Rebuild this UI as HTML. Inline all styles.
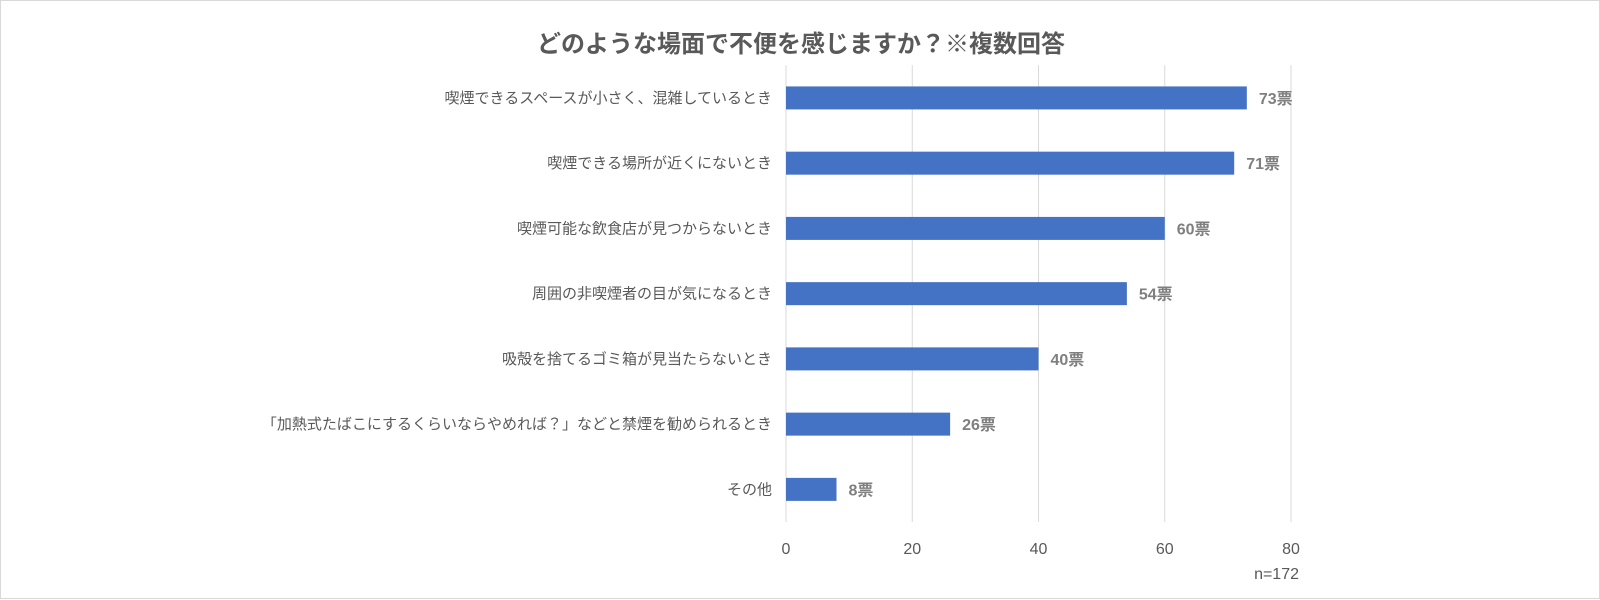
<!DOCTYPE html>
<html><head><meta charset="utf-8"><style>
html,body{margin:0;padding:0;background:#fff}
svg{display:block}
text{font-family:"Liberation Sans","Noto Sans CJK JP",sans-serif}
</style></head><body>
<svg id="chart" width="1600" height="600" viewBox="0 0 1600 600">
<rect x="0.5" y="0.5" width="1599" height="598" fill="#fff" stroke="#d9d9d9"/>
<text x="801" y="52" text-anchor="middle" font-size="24" font-weight="bold" fill="#595959">どのような場面で不便を感じますか？※複数回答</text>
<g id="grid"></g><g id="bars"></g><g id="labels"></g>
<text x="1299" y="579" text-anchor="end" font-size="16" fill="#595959">n=172</text>
</svg>
<script>
const categories=["喫煙できるスペースが小さく、混雑しているとき","喫煙できる場所が近くにないとき","喫煙可能な飲食店が見つからないとき","周囲の非喫煙者の目が気になるとき","吸殻を捨てるゴミ箱が見当たらないとき","「加熱式たばこにするくらいならやめれば？」などと禁煙を勧められるとき","その他"];
const values=[73,71,60,54,40,26,8];
const ticks=[0,20,40,60,80];
const valueSuffix="票";
const NS="http://www.w3.org/2000/svg";
const x0=786,x1=1291,xMax=80,yTop=65.3,yBottom=522;
const band=(yBottom-yTop)/categories.length;
const xs=v=>x0+(x1-x0)*v/xMax;
const yc=i=>yTop+band*(i+0.5);
function mk(tag,attrs,parent){const e=document.createElementNS(NS,tag);for(const k in attrs)e.setAttribute(k,attrs[k]);parent.appendChild(e);return e;}
const grid=document.getElementById('grid'),bars=document.getElementById('bars'),labels=document.getElementById('labels');
ticks.forEach(t=>{
 const l=mk('line',{x1:xs(t),x2:xs(t),y1:yTop,y2:yBottom,stroke:'#d9d9d9','stroke-width':1},grid);
 
 
 const tx=mk('text',{x:xs(t),y:554,'text-anchor':'middle','font-size':16,fill:'#595959'},grid);
 tx.textContent=t;
 
 
});
categories.forEach((c,i)=>{
 const y=yc(i),h=23;
 const r=mk('rect',{x:xs(0),y:y-h/2,width:xs(values[i])-xs(0),height:h,fill:'#4472c4'},bars);
 
 
 const lb=mk('text',{x:772,y:y+5,'text-anchor':'end','font-size':15,fill:'#595959'},labels);
 lb.textContent=c;
 
 
 const vl=mk('text',{x:xs(values[i])+12,y:y+6,'font-size':16,'font-weight':'bold',fill:'#7f7f7f'},labels);
 vl.textContent=values[i]+valueSuffix;
 
 
});
</script>
</body></html>
